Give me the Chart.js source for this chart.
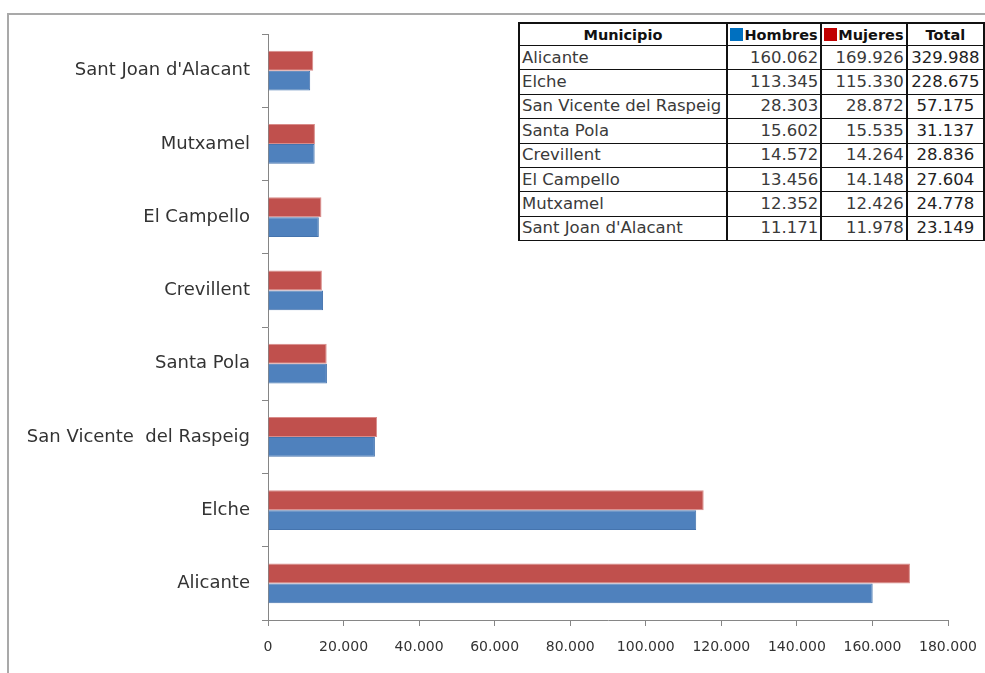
<!DOCTYPE html>
<html><head><meta charset="utf-8">
<script src="https://cdn.jsdelivr.net/npm/chart.js@4"></script>
<style>
body{margin:0;background:#fff;width:985px;height:673px;overflow:hidden;position:relative;font-family:'DejaVu Sans',sans-serif;}
#frame{position:absolute;left:7px;top:13px;width:1000px;height:700px;border:2px solid #a9a9a9;}
#c{position:absolute;left:0;top:0;width:985px;height:673px;}
#tbl{position:absolute;left:518px;top:22px;border-collapse:collapse;background:#fff;font-size:16.5px;color:#3a3a3a;table-layout:fixed;}
#tbl td,#tbl th{border-top:1px solid #111;border-bottom:1px solid #111;border-left:2px solid #111;border-right:2px solid #111;padding:0 2px;height:23.4px;line-height:22px;white-space:nowrap;overflow:hidden;}
#tbl th{font-weight:bold;font-size:14.5px;color:#111;height:21px;line-height:20px;border-top:2px solid #111;}
#tbl td.n{text-align:right;}
#tbl td.t{text-align:center;color:#222;}
.sq{display:inline-block;width:13px;height:13px;vertical-align:-1px;margin-right:1px;}
</style>
</head><body>
<div id="frame"></div>
<canvas id="c" width="985" height="673"></canvas>
<table id="tbl"><colgroup><col style="width:212px"><col style="width:96px"><col style="width:86px"><col style="width:82px"></colgroup>
<thead><tr id="hdr"></tr></thead><tbody id="body"></tbody></table>
<script>
const municipios = ['Alicante','Elche','San Vicente del Raspeig','Santa Pola','Crevillent','El Campello','Mutxamel',"Sant Joan d'Alacant"];
const axisLabels = ['Alicante','Elche','San Vicente  del Raspeig','Santa Pola','Crevillent','El Campello','Mutxamel',"Sant Joan d'Alacant"];
const hombres = [160062,113345,28303,15602,14572,13456,12352,11171];
const mujeres = [169926,115330,28872,15535,14264,14148,12426,11978];
const totales = [329988,228675,57175,31137,28836,27604,24778,23149];
const headers = ['Municipio','Hombres','Mujeres','Total'];
const xMin = 0, xMax = 180000, xStep = 20000;

const fmt = v => v === 0 ? '0' : String(v).replace(/\B(?=(\d{3})+(?!\d))/g,'.');
const FONT = "'DejaVu Sans', sans-serif";

// table
const hdr = document.getElementById('hdr');
hdr.innerHTML = '<th>'+headers[0]+'</th>'+
  '<th><span class="sq" style="background:#0070C0"></span>'+headers[1]+'</th>'+
  '<th><span class="sq" style="background:#C00000"></span>'+headers[2]+'</th>'+
  '<th>'+headers[3]+'</th>';
const body = document.getElementById('body');
municipios.forEach((m,i)=>{
  const tr=document.createElement('tr');
  tr.innerHTML='<td>'+m+'</td><td class="n">'+fmt(hombres[i])+'</td><td class="n">'+fmt(mujeres[i])+'</td><td class="t">'+fmt(totales[i])+'</td>';
  body.appendChild(tr);
});

// chart (top-to-bottom order)
const labels = axisLabels.slice().reverse();
const dataH = hombres.slice().reverse();
const dataM = mujeres.slice().reverse();

new Chart(document.getElementById('c'), {
  type:'bar',
  data:{labels, datasets:[
    {label:'Mujeres', data:dataM, backgroundColor:'#C0504D', borderColor:'#D98C8A', borderWidth:1},
    {label:'Hombres', data:dataH, backgroundColor:'#4F81BD', borderColor:'#4574AE', borderWidth:1}
  ]},
  options:{
    indexAxis:'y', responsive:false, animation:false,
    datasets:{bar:{categoryPercentage:0.546, barPercentage:1}},
    layout:{padding:{top:34,right:37,bottom:13,left:0}},
    plugins:{legend:{display:false}, tooltip:{enabled:false}},
    scales:{
      x:{min:xMin,max:xMax,
        ticks:{stepSize:xStep, callback:v=>fmt(v), color:'#333', font:{size:14,family:FONT}, padding:13, maxRotation:0, autoSkip:false},
        grid:{drawOnChartArea:false, tickLength:6, color:'#868686'},
        border:{color:'#868686'},
        afterFit(s){s.height=40; s.paddingRight=0; s.paddingLeft=0;}
      },
      y:{
        ticks:{font:{size:18,family:FONT}, padding:12, color:'#333'},
        grid:{offset:true, drawOnChartArea:false, tickLength:6, color:'#868686'},
        border:{color:'#868686'},
        afterFit(s){s.width=268; s.paddingTop=0; s.paddingBottom=0;}
      }
    }
  }
});
</script>
</body></html>
